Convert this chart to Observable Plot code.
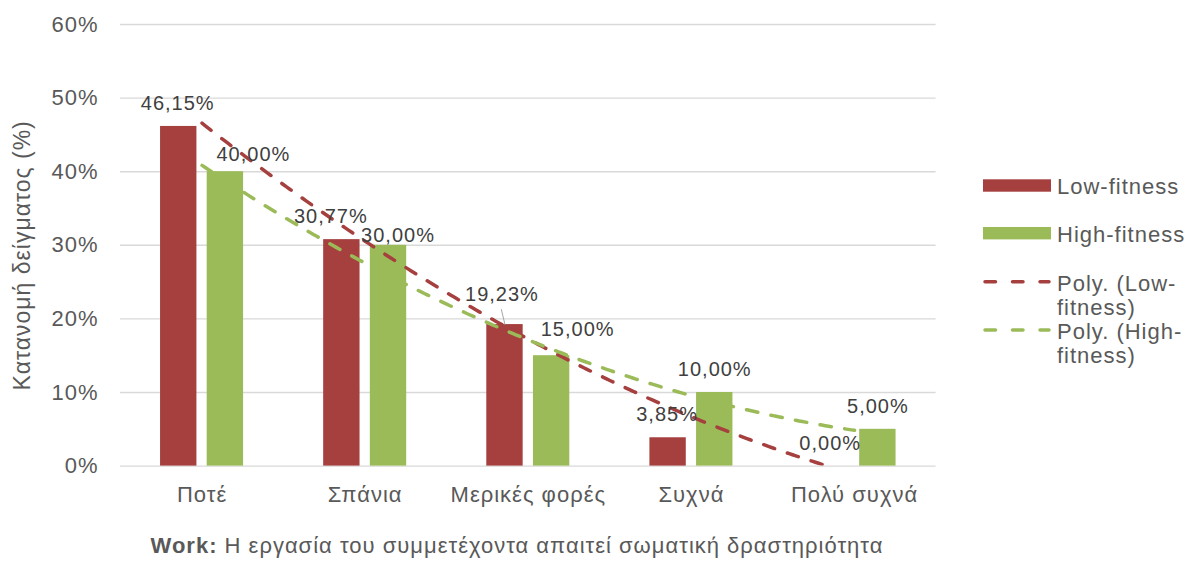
<!DOCTYPE html>
<html>
<head>
<meta charset="utf-8">
<script src="https://cdn.jsdelivr.net/npm/d3@7"></script>
<script src="https://cdn.jsdelivr.net/npm/@observablehq/plot@0.6"></script>
<style>
  body { margin: 0; background: #ffffff; }
  #chart { position: relative; width: 1188px; height: 562px; overflow: hidden;
    font-family: "Liberation Sans", Arial, sans-serif; color: #595959; background: #fff; }
  #caption { position: absolute; left: 0; top: 534px; width: 1034px; text-align: center;
    font-size: 22px; line-height: 24px; letter-spacing: 1px; color: #595959; white-space: nowrap; }
  #legend { position: absolute; left: 970px; top: 160px; }
</style>
</head>
<body>
<div id="chart"><div id="caption"></div></div>
<script>
// ---- data ----
const categories = ["Ποτέ", "Σπάνια", "Μερικές φορές", "Συχνά", "Πολύ συχνά"];
const lowFitness = [46.15, 30.77, 19.23, 3.85, 0.00];
const highFitness = [40.00, 30.00, 15.00, 10.00, 5.00];
const seriesNames = ["Low-fitness", "High-fitness"];
const trendNames = ["Poly. (Low-", "fitness)", "Poly. (High-", "fitness)"];
const yTicks = [0, 10, 20, 30, 40, 50, 60];
const yLabel = "Κατανομή δείγματος (%)";
const xLabelBold = "Work:";
const xLabelRest = " Η εργασία του συμμετέχοντα απαιτεί σωματική δραστηριότητα";

// ---- layout / style (not data) ----
const colors = {low: "#A5403F", high: "#9BBB59"};
const barOffsets = {low: [-0.2545, -0.0315], high: [0.0315, 0.2545]};
const labelNudgeLow = [[-1, 0], [-11, 0], [-3, -7], [-1, 0], [-1, 0]];
const labelNudgeHigh = [[28, 6], [9.5, 13], [26, -3], [0, 0], [0, 0]];
const fontSize = 22;
const labelFontSize = 20;

// ---- helpers ----
function polyfit(xs, ys, deg) {
  const m = deg + 1;
  const A = Array.from({length: m}, () => new Array(m + 1).fill(0));
  for (let k = 0; k < xs.length; k++) {
    for (let i = 0; i < m; i++) {
      for (let j = 0; j < m; j++) A[i][j] += Math.pow(xs[k], i + j);
      A[i][m] += ys[k] * Math.pow(xs[k], i);
    }
  }
  for (let i = 0; i < m; i++) {
    let p = i;
    for (let r = i + 1; r < m; r++) if (Math.abs(A[r][i]) > Math.abs(A[p][i])) p = r;
    [A[i], A[p]] = [A[p], A[i]];
    for (let r = 0; r < m; r++) {
      if (r === i) continue;
      const f = A[r][i] / A[i][i];
      for (let c = i; c <= m; c++) A[r][c] -= f * A[i][c];
    }
  }
  return A.map((row, i) => row[m] / row[i]);
}
const fmt = v => d3.format(".2f")(v).replace(".", ",") + "%";

const idx = categories.map((_, i) => i + 1);
const bars = [
  ...lowFitness.map((v, i) => ({i: i + 1, v, s: "low"})),
  ...highFitness.map((v, i) => ({i: i + 1, v, s: "high"}))
];
function trend(values, s) {
  const c = polyfit(idx, values, 2);
  const pts = [];
  for (let t = 1; t <= 5.0001; t += 0.02) pts.push({x: t, y: c[0] + c[1] * t + c[2] * t * t, s});
  return pts;
}
const trendLow = trend(lowFitness, "low");
const trendHigh = trend(highFitness, "high");

const dash = {strokeWidth: 3.5, strokeDasharray: "11.5,13.5", strokeLinecap: "round", clip: true};

const labelMarks = [];
[["low", lowFitness, labelNudgeLow], ["high", highFitness, labelNudgeHigh]].forEach(([s, vals, nudges]) => {
  vals.forEach((v, i) => {
    const off = (barOffsets[s][0] + barOffsets[s][1]) / 2;
    labelMarks.push(Plot.text([{i: i + 1, v}], {
      x: d => d.i + off, y: "v", text: d => fmt(d.v),
      dx: nudges[i][0], dy: -23 + nudges[i][1], lineAnchor: "middle",
      fill: "#404040", fontSize: labelFontSize
    }));
  });
});
const lowCenter = (barOffsets.low[0] + barOffsets.low[1]) / 2;

const chart = Plot.plot({
  width: 1188, height: 515,
  marginLeft: 120, marginRight: 252.4, marginTop: 24, marginBottom: 49.4,
  style: {fontFamily: "'Liberation Sans', Arial, sans-serif", fontSize: fontSize + "px", color: "#595959", letterSpacing: "1px", background: "transparent"},
  x: {type: "linear", domain: [0.5, 5.5]},
  y: {domain: [0, 60]},
  marks: [
    Plot.ruleY(yTicks, {stroke: "#d9d9d9", strokeWidth: 1.4}),
    Plot.rectY(bars, {
      x1: d => d.i + barOffsets[d.s][0], x2: d => d.i + barOffsets[d.s][1],
      y1: 0, y2: "v", fill: d => colors[d.s]
    }),
    Plot.line(trendLow, {x: "x", y: "y", ...dash, stroke: colors.low}),
    Plot.line(trendHigh, {x: "x", y: "y", ...dash, stroke: colors.high}),
    Plot.link([{i: 3, v: lowFitness[2]}], {
      x1: d => d.i + lowCenter - 0.0227, y1: d => d.v + 2.1,
      x2: d => d.i + lowCenter, y2: "v", stroke: "#a6a6a6", strokeWidth: 1
    }),
    ...labelMarks,
    Plot.axisX({ticks: idx, tickFormat: d => categories[d - 1], tickSize: 0, tickPadding: 20, label: null, fontSize}),
    Plot.axisY({ticks: yTicks, tickFormat: d => d + "%", tickSize: 0, tickPadding: 22, label: null, fontSize}),
    Plot.text([yLabel], {frameAnchor: "left", textAnchor: "middle", text: d => d, rotate: -90, dx: -98, dy: 10, fontSize: 23, fill: "#595959", letterSpacing: "1.2px"})
  ]
});
const root = document.getElementById("chart");
root.insertBefore(chart, root.firstChild);

// caption
const cap = document.getElementById("caption");
const b = document.createElement("b"); b.textContent = xLabelBold;
cap.appendChild(b); cap.appendChild(document.createTextNode(xLabelRest));

// legend
const lg = d3.select(root).append("svg").attr("id", "legend").attr("width", 218).attr("height", 220)
  .style("font-family", "'Liberation Sans', Arial, sans-serif").style("font-size", fontSize + "px")
  .style("letter-spacing", "1px");
const ox = 970, oy = 160;
lg.append("rect").attr("x", 983 - ox).attr("y", 179.3 - oy).attr("width", 68).attr("height", 12.4).attr("fill", colors.low);
lg.append("text").attr("x", 1057 - ox).attr("y", 193.5 - oy).attr("fill", "#595959").text(seriesNames[0]);
lg.append("rect").attr("x", 983 - ox).attr("y", 227 - oy).attr("width", 68).attr("height", 12.4).attr("fill", colors.high);
lg.append("text").attr("x", 1057 - ox).attr("y", 241.5 - oy).attr("fill", "#595959").text(seriesNames[1]);
[[colors.low, 281.7, 290.5, 0], [colors.high, 330, 338.5, 2]].forEach(([c, ly, ty, k]) => {
  lg.append("line").attr("x1", 985 - ox).attr("x2", 1049 - ox).attr("y1", ly - oy).attr("y2", ly - oy)
    .attr("stroke", c).attr("stroke-width", 3.5).attr("stroke-linecap", "round").attr("stroke-dasharray", "10.5,17");
  lg.append("text").attr("x", 1057 - ox).attr("y", ty - oy).attr("fill", "#595959").text(trendNames[k]);
  lg.append("text").attr("x", 1057 - ox).attr("y", ty + 24 - oy).attr("fill", "#595959").text(trendNames[k + 1]);
});
</script>
</body>
</html>
